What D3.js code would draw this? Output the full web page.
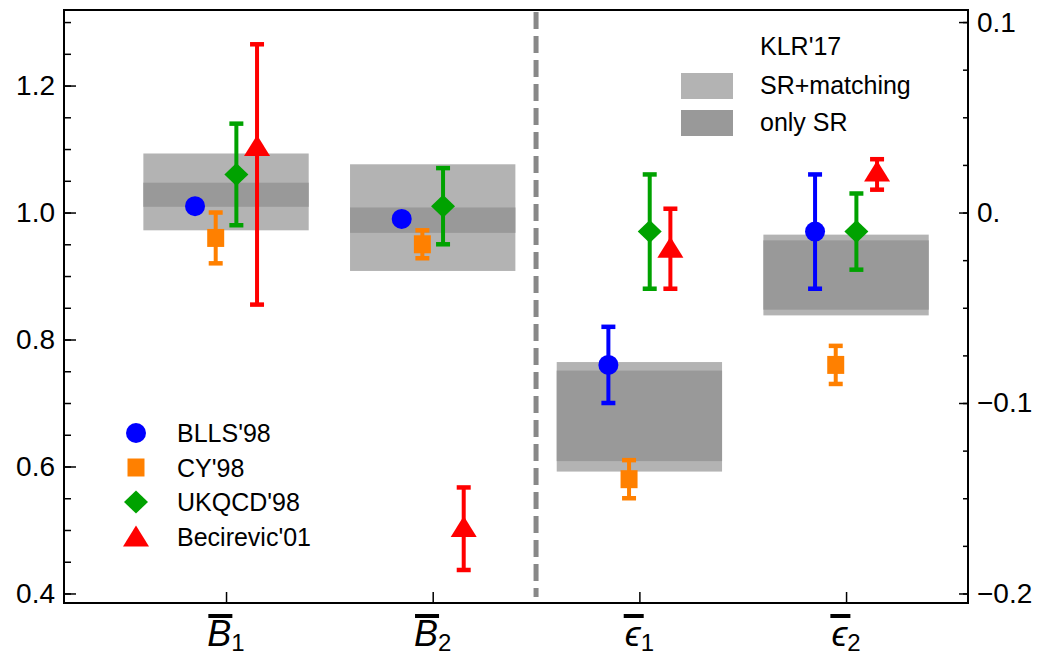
<!DOCTYPE html>
<html>
<head>
<meta charset="utf-8">
<script src="https://cdn.jsdelivr.net/npm/d3@7"></script>
<style>
  body { margin: 0; background: #fff; }
  svg { display: block; }
  text { font-family: "Liberation Sans", Arial, Helvetica, sans-serif; fill: #000; }
</style>
</head>
<body>
<svg id="chart" width="1040" height="656"></svg>
<script>
// ---- data ----
const categories = [1, 2, 3, 4];
const catLetter = ["B", "B", "\u03F5", "\u03F5"];
const catIndex = ["1", "2", "1", "2"];
const catAxis = ["left", "left", "right", "right"];   // B's on the left axis, eps on the right one

const seriesNames = ["BLLS'98", "CY'98", "UKQCD'98", "Becirevic'01"];
const seriesColors = ["#0000ff", "#ff8000", "#00a200", "#ff0000"];
const seriesShapes = ["circle", "square", "diamond", "triangle"];
const seriesOffset = [-0.15, -0.05, 0.05, 0.15];

const bllsValue = [1.01, 0.99, -0.08, -0.01];
const bllsErrUp = [0, 0, 0.02, 0.03];
const bllsErrDown = [0, 0, 0.02, 0.03];

const cyValue = [0.96, 0.95, -0.14, -0.08];
const cyErrUp = [0.04, 0.022, 0.01, 0.01];
const cyErrDown = [0.04, 0.022, 0.01, 0.01];

const ukqcdValue = [1.06, 1.01, -0.01, -0.01];
const ukqcdErrUp = [0.08, 0.06, 0.03, 0.02];
const ukqcdErrDown = [0.08, 0.06, 0.03, 0.02];

const becValue = [1.10, 0.50, -0.02, 0.02];
const becErrUp = [0.165, 0.067, 0.022, 0.008];
const becErrDown = [0.245, 0.063, 0.02, 0.008];

// KLR'17 sum rule bands
const klrFullLow = [0.972, 0.908, -0.136, -0.054];
const klrFullHigh = [1.093, 1.076, -0.0785, -0.0116];
const klrSrLow = [1.009, 0.968, -0.1305, -0.051];
const klrSrHigh = [1.047, 1.008, -0.083, -0.0146];
const klrNames = ["SR+matching", "only SR"];
const klrColors = ["#b3b3b3", "#999999"];

const leftTickLabels = [0.4, 0.6, 0.8, 1.0, 1.2];
const rightTickValues = [-0.2, -0.1, 0, 0.1];
const rightTickLabels = ["\u22120.2", "\u22120.1", "0.", "0.1"];

// ---- layout ----
const svg = d3.select("#chart");
const L = 64, R = 968, T = 10, B = 603;

const x = d3.scaleLinear().domain([0.216, 4.59]).range([L, R]);
const yL = d3.scaleLinear().domain([0.385, 1.319]).range([B, T]);
const yR = d3.scaleLinear().domain([(0.385 - 1) / 3, (1.319 - 1) / 3]).range([B, T]);
function yFor(i) { return catAxis[i] == "left" ? yL : yR; }

const series = [
  { value: bllsValue, up: bllsErrUp, down: bllsErrDown },
  { value: cyValue, up: cyErrUp, down: cyErrDown },
  { value: ukqcdValue, up: ukqcdErrUp, down: ukqcdErrDown },
  { value: becValue, up: becErrUp, down: becErrDown }
];

function markerPath(shape, cx, cy) {
  if (shape == "circle") {
    const p = d3.path(); p.arc(cx, cy, 10, 0, 2 * Math.PI); return p.toString();
  }
  if (shape == "square") {
    return `M${cx - 8.5},${cy - 9}h17v18h-17Z`;
  }
  if (shape == "diamond") {
    return `M${cx},${cy - 11.5}L${cx + 12},${cy}L${cx},${cy + 11.5}L${cx - 12},${cy}Z`;
  }
  return `M${cx},${cy - 14}L${cx + 13},${cy + 7}L${cx - 13},${cy + 7}Z`;
}

// ---- KLR bands ----
const bandW = 0.4;
const gBands = svg.append("g");
gBands.selectAll("rect.full").data(categories).join("rect")
  .attr("x", d => x(d - bandW)).attr("width", d => x(d + bandW) - x(d - bandW))
  .attr("y", (d, i) => yFor(i)(klrFullHigh[i]))
  .attr("height", (d, i) => yFor(i)(klrFullLow[i]) - yFor(i)(klrFullHigh[i]))
  .attr("fill", klrColors[0]);
gBands.selectAll("rect.sr").data(categories).join("rect")
  .attr("x", d => x(d - bandW)).attr("width", d => x(d + bandW) - x(d - bandW))
  .attr("y", (d, i) => yFor(i)(klrSrHigh[i]))
  .attr("height", (d, i) => yFor(i)(klrSrLow[i]) - yFor(i)(klrSrHigh[i]))
  .attr("fill", klrColors[1]);

// dashed separator between the B's and the eps's
svg.append("line")
  .attr("x1", x(2.5)).attr("x2", x(2.5)).attr("y1", T + 2).attr("y2", B - 6)
  .attr("stroke", "#888").attr("stroke-width", 5).attr("stroke-dasharray", "17,7");

// ---- error bars and markers ----
series.forEach((s, k) => {
  const g = svg.append("g").attr("fill", seriesColors[k]).attr("stroke", seriesColors[k]);
  categories.forEach((c, i) => {
    const y = yFor(i);
    const cx = x(c + seriesOffset[k]);
    if (s.up[i] > 0 || s.down[i] > 0) {
      const yTop = y(s.value[i] + s.up[i]);
      const yBot = y(s.value[i] - s.down[i]);
      g.append("line").attr("x1", cx).attr("x2", cx).attr("y1", yTop).attr("y2", yBot)
        .attr("stroke-width", 4);
      [yTop, yBot].forEach(yy => {
        g.append("line").attr("x1", cx - 7).attr("x2", cx + 7).attr("y1", yy).attr("y2", yy)
          .attr("stroke-width", 4.5);
      });
    }
    g.append("path").attr("d", markerPath(seriesShapes[k], cx, y(s.value[i]))).attr("stroke", "none");
  });
});

// ---- axes ----
const leftMinor = d3.range(0.4, 1.3001, 0.05);
const rightMinor = d3.range(-0.2, 0.1001, 0.025);

function clean(g) { g.select(".domain").remove(); g.selectAll("line").attr("stroke", "#000").attr("stroke-width", 1.5); }

svg.append("g").attr("transform", `translate(${L},0)`)
  .call(d3.axisRight(yL).tickValues(leftMinor).tickSize(7).tickFormat(""))
  .call(clean);
svg.append("g").attr("transform", `translate(${L},0)`)
  .call(d3.axisRight(yL).tickValues(leftTickLabels).tickSize(12).tickFormat(""))
  .call(clean);
svg.append("g").attr("transform", `translate(${L},0)`)
  .call(d3.axisLeft(yL).tickValues(leftTickLabels).tickSize(0).tickPadding(9).tickFormat(d3.format(".1f")))
  .call(clean)
  .selectAll("text").attr("font-size", 28).attr("font-family", null);

svg.append("g").attr("transform", `translate(${R},0)`)
  .call(d3.axisLeft(yR).tickValues(rightMinor).tickSize(5).tickFormat(""))
  .call(clean);
svg.append("g").attr("transform", `translate(${R},0)`)
  .call(d3.axisLeft(yR).tickValues(rightTickValues).tickSize(9).tickFormat(""))
  .call(clean);
svg.append("g").attr("transform", `translate(${R},0)`)
  .call(d3.axisRight(yR).tickValues(rightTickValues).tickSize(0).tickPadding(9)
    .tickFormat((d, i) => rightTickLabels[i]))
  .call(clean)
  .selectAll("text").attr("font-size", 28).attr("font-family", null);

svg.append("g").attr("transform", `translate(0,${B})`)
  .call(d3.axisTop(x).tickValues(categories).tickSize(11).tickFormat(""))
  .call(clean);

// x labels: barred letter with subscript
categories.forEach((c, i) => {
  const t = svg.append("text").attr("x", x(c)).attr("y", 646).attr("text-anchor", "middle");
  t.append("tspan").attr("font-style", "italic").attr("font-size", 36).text(catLetter[i]);
  t.append("tspan").attr("font-size", 24).attr("dy", 5).text(catIndex[i]);
  const ext = t.node().getExtentOfChar(0);
  const bw = Math.max(ext.width, 20);
  svg.append("rect").attr("x", ext.x + ext.width / 2 - bw / 2 + 1).attr("y", 614)
    .attr("width", bw).attr("height", 4).attr("fill", "#000");
});

// frame
svg.append("rect").attr("x", L).attr("y", T).attr("width", R - L).attr("height", B - T)
  .attr("fill", "none").attr("stroke", "#000").attr("stroke-width", 2);

// ---- legends ----
const gLeg = svg.append("g");
seriesNames.forEach((n, k) => {
  const yy = 433 + k * 34.5;
  gLeg.append("path").attr("d", markerPath(seriesShapes[k], 136, yy + (seriesShapes[k] == "triangle" ? 3 : 0)))
    .attr("fill", seriesColors[k]);
  gLeg.append("text").attr("x", 177).attr("y", yy + 9).attr("font-size", 25).text(n);
});

const gKlr = svg.append("g");
gKlr.append("text").attr("x", 760).attr("y", 55).attr("font-size", 25).text("KLR'17");
klrNames.forEach((n, k) => {
  const yy = 73 + k * 37;
  gKlr.append("rect").attr("x", 681).attr("y", yy).attr("width", 52).attr("height", 26).attr("fill", klrColors[k]);
  gKlr.append("text").attr("x", 760).attr("y", yy + 21).attr("font-size", 25).text(n);
});
</script>
</body>
</html>
